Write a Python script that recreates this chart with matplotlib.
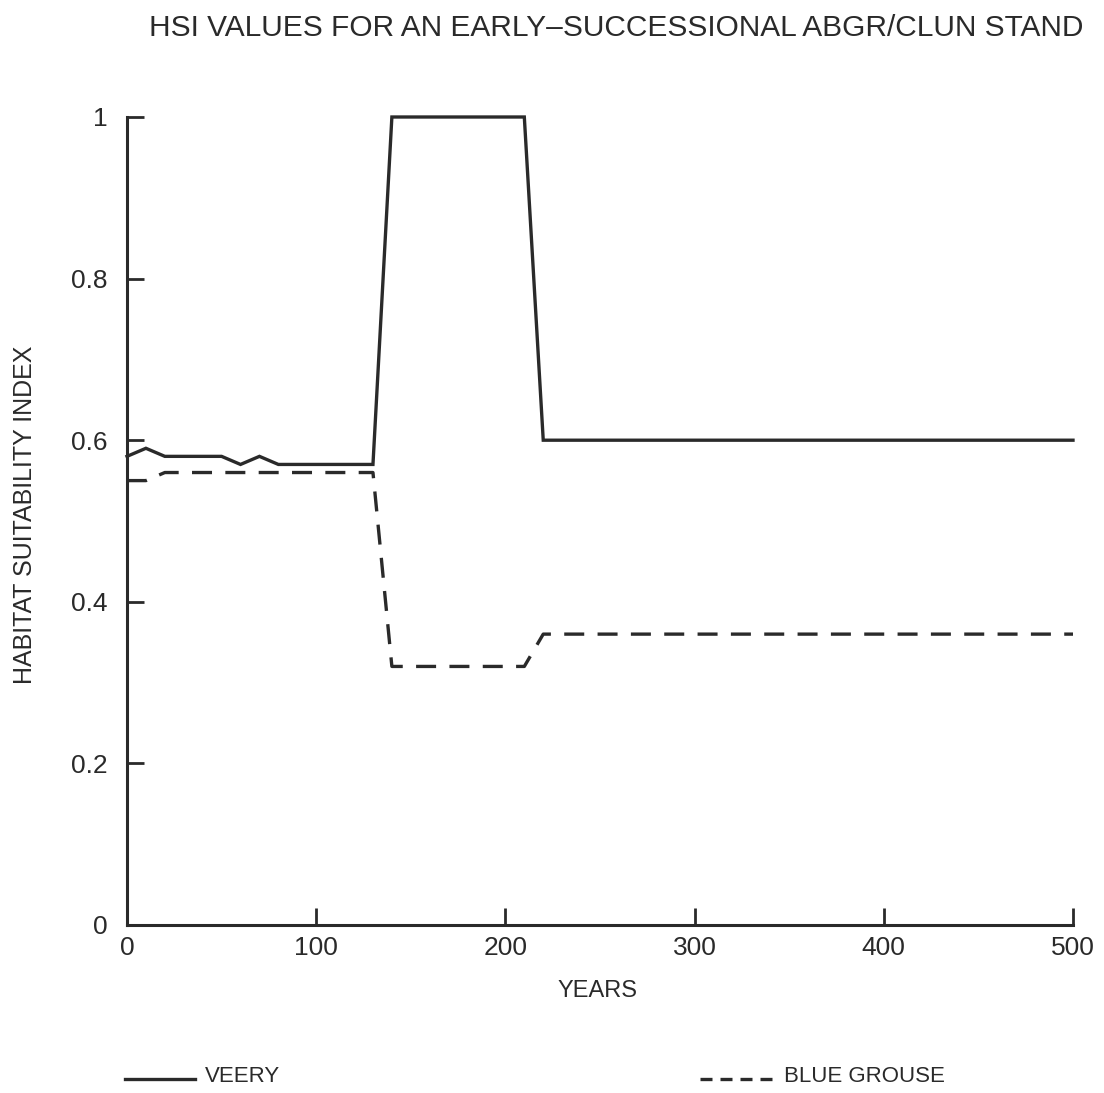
import matplotlib
matplotlib.use("Agg")
import matplotlib.pyplot as plt
from matplotlib.lines import Line2D

# data (10-year steps)
years = list(range(0, 510, 10))
veery = ([0.58, 0.59, 0.58, 0.58, 0.58, 0.58, 0.57, 0.58, 0.57, 0.57, 0.57, 0.57, 0.57, 0.57]
         + [1.0] * 8 + [0.6] * 29)
blue_grouse = ([0.55, 0.55, 0.56, 0.56, 0.56, 0.56, 0.56, 0.56, 0.56, 0.56, 0.56, 0.56, 0.56, 0.56]
               + [0.32] * 8 + [0.36] * 29)
xticks = [0, 100, 200, 300, 400, 500]
yticks = [0, 0.2, 0.4, 0.6, 0.8, 1]
ytick_labels = ["0", "0.2", "0.4", "0.6", "0.8", "1"]

INK = "#2a2a2a"
plt.rcParams["font.family"] = ["Liberation Sans", "DejaVu Sans"]

fig = plt.figure(figsize=(11.04, 10.93), dpi=100)
ax = fig.add_axes([127 / 1104, 1 - 925 / 1093, (1073 - 127) / 1104, (925 - 117) / 1093])

ax.plot(years, veery, color=INK, lw=2.4, clip_on=False, solid_joinstyle="miter")
ax.plot(years, blue_grouse, color=INK, lw=2.4, dashes=(6, 4), clip_on=False)

ax.set_xlim(0, 500)
ax.set_ylim(0, 1)
ax.set_xticks(xticks)
ax.set_yticks(yticks, ytick_labels)
for s in ("top", "right"):
    ax.spines[s].set_visible(False)
for s in ("left", "bottom"):
    ax.spines[s].set_linewidth(2.2)
    ax.spines[s].set_color(INK)
ax.tick_params(direction="in", length=12, width=2.0, color=INK, labelsize=19,
               labelcolor=INK)
ax.tick_params(axis="y", pad=14)
ax.tick_params(axis="x", pad=8)

fig.text(616 / 1104, 1 - 28 / 1093, "HSI VALUES FOR AN EARLY\u2013SUCCESSIONAL ABGR/CLUN STAND",
         ha="center", va="center", fontsize=21.5, color=INK)
fig.text(25 / 1104, 1 - 515 / 1093, "HABITAT SUITABILITY INDEX", rotation=90,
         ha="center", va="center", fontsize=18, color=INK)
fig.text(598 / 1104, 1 - 991 / 1093, "YEARS", ha="center", va="center", fontsize=17, color=INK)

# legend at the bottom
ly = 1 - 1079 / 1093
fig.add_artist(Line2D([125 / 1104, 195 / 1104], [ly, ly], color=INK, lw=2.4))
fig.text(205 / 1104, 1 - 1077 / 1093, "VEERY", ha="left", va="center", fontsize=16, color=INK)
fig.add_artist(Line2D([700 / 1104, 772 / 1104], [ly, ly], color=INK, lw=2.4, dashes=(3.6, 2.4)))
fig.text(784 / 1104, 1 - 1077 / 1093, "BLUE GROUSE", ha="left", va="center", fontsize=16, color=INK)

fig.savefig("out.png", dpi=100)
